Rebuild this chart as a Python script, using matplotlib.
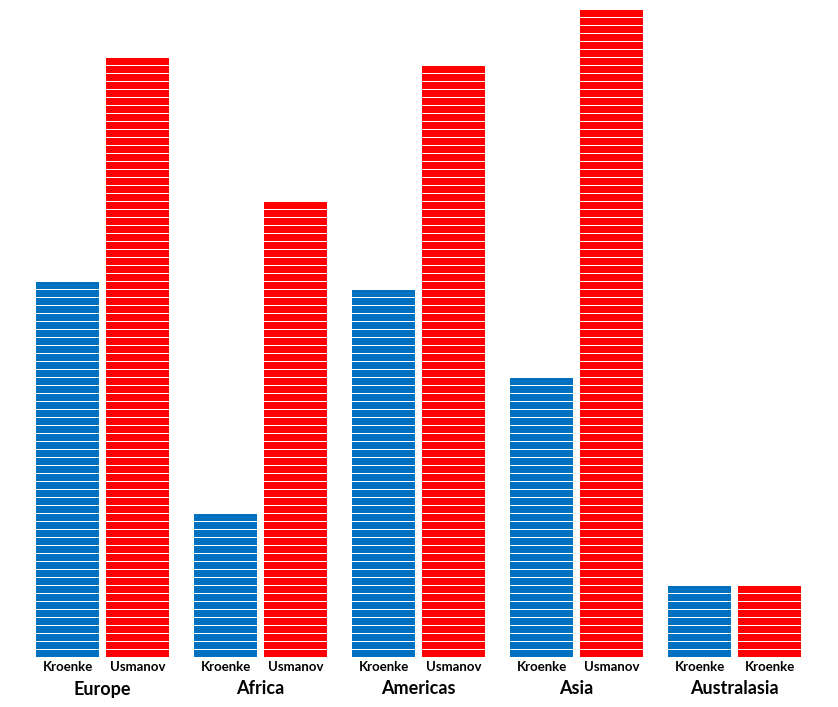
import numpy as np
import matplotlib.pyplot as plt

regions = ["Europe", "Africa", "Americas", "Asia", "Australasia"]
left_names = ["Kroenke", "Kroenke", "Kroenke", "Kroenke", "Kroenke"]
right_names = ["Usmanov", "Usmanov", "Usmanov", "Usmanov", "Kroenke"]
left_vals = [47, 18, 46, 35, 9]
right_vals = [75, 57, 74, 81, 9]

blue = "#0070C0"
red = "#FF0000"
plt.rcParams["font.family"] = ["Lato", "DejaVu Sans"]

fig = plt.figure(figsize=(8.38, 7.07), dpi=100)
# axes: bottom at 657px from top, 8 px per unit
ax = fig.add_axes([0, 50 / 707, 1, 648 / 707])
ax.set_xlim(-102.5 / 158, (838 - 102.5) / 158)
ax.set_ylim(0, 81)
ax.axis("off")

w = 63 / 158
off = 35 / 158
x = np.arange(len(regions))

for i in range(len(regions)):
    for side, vals, names, col in [(-1, left_vals, left_names, blue),
                                   (1, right_vals, right_names, red)]:
        n = vals[i]
        ax.bar(np.full(n, x[i] + side * off), 0.875, bottom=np.arange(n),
               width=w, color=col, linewidth=0, antialiased=False)
        ax.text(x[i] + side * off, -1.3, names[i], ha="center", va="center",
                fontsize=9.5, fontweight="bold", clip_on=False)
    ax.text(x[i], -4.0, regions[i], ha="center", va="center",
            fontsize=13, fontweight="bold", clip_on=False)

fig.savefig("out.png", dpi=100)
